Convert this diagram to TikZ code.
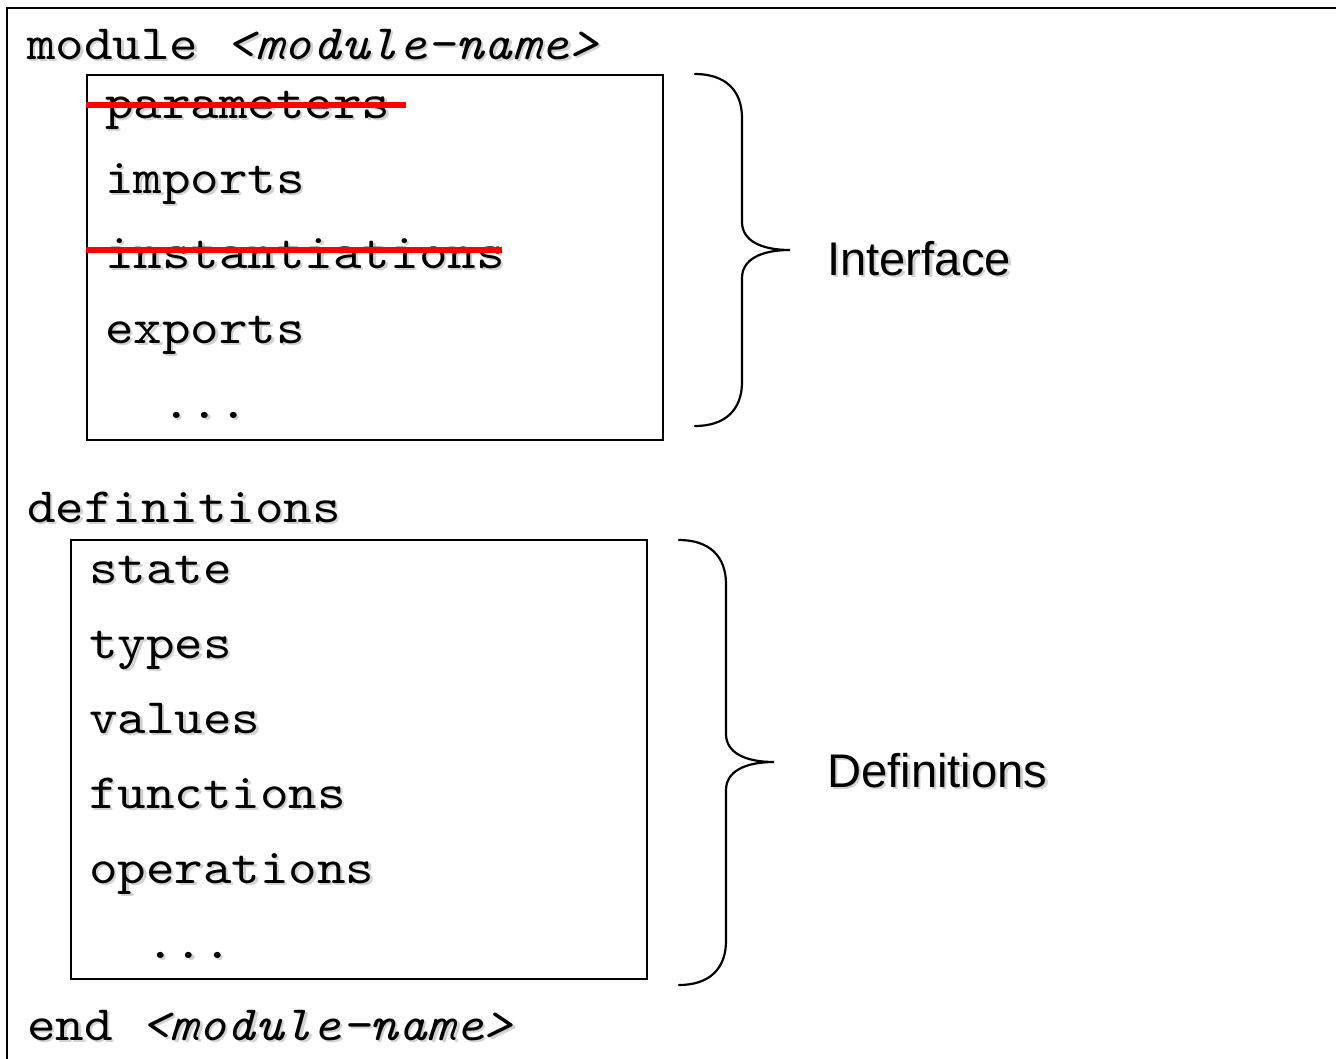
\documentclass[tikz,border=0pt]{standalone}
\usepackage{fontspec}
\setmainfont{Liberation Sans}
\setsansfont{Liberation Sans}
\setmonofont{lmmono10-regular.otf}[FakeStretch=1.1, ItalicFont=lmmono10-italic.otf]
\usepackage{xcolor}
\usetikzlibrary{positioning}

% text with a soft grey drop shadow
\newcommand{\shadowed}[1]{\makebox[0pt][l]{\hspace{2.4pt}\raisebox{-2.4pt}{\textcolor{gray!35}{#1}}}#1}

\begin{document}
\begin{tikzpicture}[x=1pt, y=-1pt,
    code/.style={anchor=base west, inner sep=0pt, font=\ttfamily\fontsize{49.4}{59}\selectfont},
    label/.style={anchor=base west, inner sep=0pt, font=\sffamily\fontsize{47.2}{56}\selectfont},
    partbox/.style={draw, line width=1.6pt, anchor=north west, inner sep=0pt},
    strike/.style={draw=red, line width=6.5pt},
    curly/.style={line width=2.2pt, line cap=round}]
    \useasboundingbox (0,0) rectangle (1336,1058);

    % Outer frame (runs off the page at right and bottom)
    \draw[line width=2pt] (7,8) rectangle (1350,1070);

    % Module header
    \node[code] (mhead) at (27,59) {\shadowed{module \textit{<module-name>}}};

    % Interface box
    \node[partbox, minimum width=576pt, minimum height=365pt] (ibox) at (86,74) {};
    \node[code] (mparam)  at (105,118) {\shadowed{parameters}};
    \node[code] (mimport) at (105,193) {\shadowed{imports}};
    \node[code] (minst)   at (105,268) {\shadowed{instantiations}};
    \node[code] (mexport) at (105,343) {\shadowed{exports}};
    \node[code] (mdots)   at (162,418) {\shadowed{...}};

    % Struck-out entries
    \draw[strike] (86,105) -- (406,105);
    \draw[strike] (86,250) -- (502,250);

    % Definitions header and box
    \node[code] (dhead) at (27,522) {\shadowed{definitions}};
    \node[partbox, minimum width=576pt, minimum height=439pt] (dbox) at (70,539) {};
    \node[code] (dstate)  at (89,583) {\shadowed{state}};
    \node[code] (dtypes)  at (89,658) {\shadowed{types}};
    \node[code] (dvalues) at (89,733) {\shadowed{values}};
    \node[code] (dfuncs)  at (89,808) {\shadowed{functions}};
    \node[code] (dops)    at (89,883) {\shadowed{operations}};
    \node[code] (ddots)   at (146,958) {\shadowed{...}};

    % Module end
    \node[code] (mend) at (27,1040) {\shadowed{end \textit{<module-name>}}};

    % Braces
    \draw[curly] (695,74) .. controls (725,74) and (742,90) .. (742,118)
        -- (742,222) .. controls (742,240) and (760,250) .. (790,250)
        .. controls (760,250) and (742,260) .. (742,278)
        -- (742,382) .. controls (742,410) and (725,426) .. (695,426);
    \draw[curly] (679,540) .. controls (709,540) and (726,556) .. (726,584)
        -- (726,734) .. controls (726,752) and (744,762) .. (774,762)
        .. controls (744,762) and (726,772) .. (726,790)
        -- (726,941) .. controls (726,969) and (709,985) .. (679,985);

    % Labels
    \node[label] (lint) at (827,275) {\shadowed{Interface}};
    \node[label] (ldef) at (827,787) {\shadowed{Definitions}};
\end{tikzpicture}
\end{document}
